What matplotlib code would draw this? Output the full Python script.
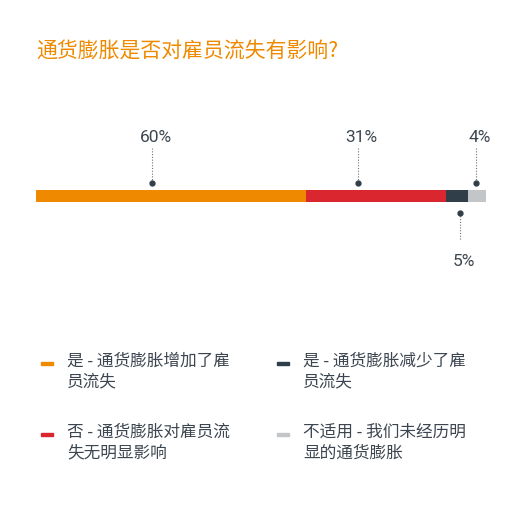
import matplotlib.pyplot as plt
from matplotlib.patches import Rectangle

plt.rcParams['font.family'] = ['Noto Sans CJK SC', 'DejaVu Sans']

title = '通货膨胀是否对雇员流失有影响?'
categories = ['是 - 通货膨胀增加了雇\n员流失',
              '否 - 通货膨胀对雇员流\n失无明显影响',
              '是 - 通货膨胀减少了雇\n员流失',
              '不适用 - 我们未经历明\n显的通货膨胀']
values = [60, 31, 5, 4]
labels = ['60%', '31%', '5%', '4%']
colors = ['#ef8a00', '#d9262f', '#2f3e48', '#c3c6c9']
text_color = '#3d4650'

W, H = 527, 519
fig = plt.figure(figsize=(W / 100, H / 100), dpi=100)
fig.patch.set_facecolor('white')

# axes: x in percent across the bar, y in pixels (top = 0)
ax = fig.add_axes([36 / W, 0, 450 / W, 1])
ax.set_xlim(0, 100)
ax.set_ylim(H, 0)
ax.axis('off')

left = 0
bar_y, bar_h = 190, 12
for v, c in zip(values, colors):
    ax.barh(bar_y + bar_h / 2, v, left=left, height=bar_h, color=c, edgecolor='none')
    left += v

# callouts: position inside each segment, above or below the bar
dot_frac = [0.43, 0.37, 0.64, 0.47]
above = [True, True, False, True]
starts = [sum(values[:i]) for i in range(len(values))]
for s, v, f, up, lab in zip(starts, values, dot_frac, above, labels):
    x = s + v * f
    if up:
        ax.plot([x, x], [148, 183], color='#6b747c', lw=0.8, ls=(0, (1, 1.5)))
        ax.plot(x, 183, 'o', color='#2f3e48', ms=3.5)
        ax.text(x + 0.8, 138, lab, ha='center', va='center', fontsize=12.5,
                color=text_color, family=['Roboto', 'DejaVu Sans'])
    else:
        ax.plot([x, x], [213, 240], color='#6b747c', lw=0.8, ls=(0, (1, 1.5)))
        ax.plot(x, 213, 'o', color='#2f3e48', ms=3.5)
        ax.text(x + 0.8, 262, lab, ha='center', va='center', fontsize=12.5,
                color=text_color, family=['Roboto', 'DejaVu Sans'])

fig.text(36 / W, 1 - 52 / H, title, fontsize=15, color='#ef8a00', va='center', ha='left')

# legend, two columns
leg_pos = [(41, 363), (41, 434), (277, 363), (277, 434)]
for (lx, ly), cat, c in zip(leg_pos, categories, colors):
    fig.add_artist(Rectangle((lx / W, 1 - (ly + 1.5) / H), 12 / W, 3 / H,
                             transform=fig.transFigure, color=c))
    fig.text((lx + 26) / W, 1 - (ly - 10) / H, cat, fontsize=12, color=text_color,
             va='top', ha='left', linespacing=1.3)

fig.savefig('out.png', dpi=100)
